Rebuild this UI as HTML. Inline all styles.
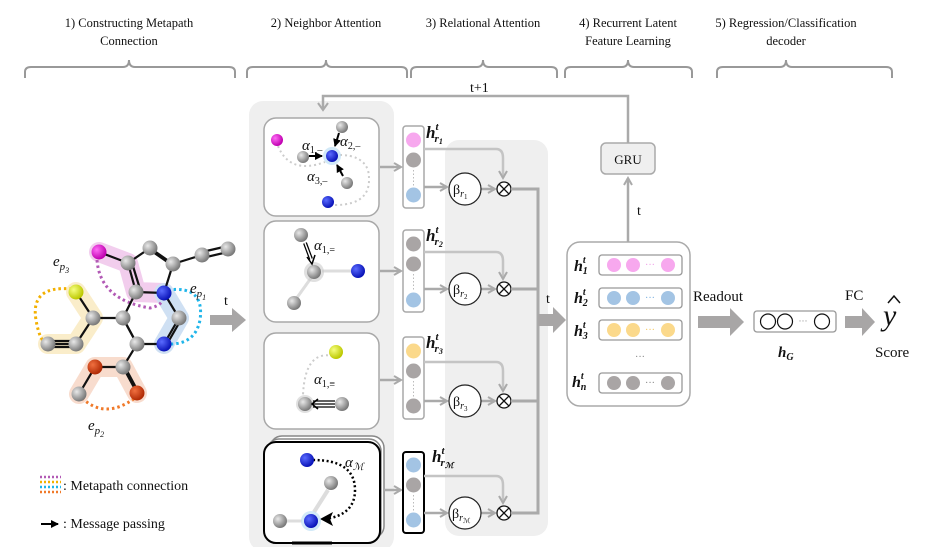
<!DOCTYPE html>
<html><head><meta charset="utf-8"><style>
html,body{margin:0;padding:0;background:#fff;width:938px;height:547px;overflow:hidden}
svg{display:block}
text{font-family:"Liberation Serif",serif;fill:#111}
.h{font-weight:bold;font-style:italic}
</style></head><body>
<svg width="938" height="547" viewBox="0 0 938 547" xmlns="http://www.w3.org/2000/svg">
<defs>
<radialGradient id="gg" cx="35%" cy="35%" r="65%"><stop offset="0" stop-color="#e8e8e8"/><stop offset="1" stop-color="#7a7a7a"/></radialGradient>
<radialGradient id="gb" cx="35%" cy="35%" r="65%"><stop offset="0" stop-color="#5a6bff"/><stop offset="1" stop-color="#0a14b8"/></radialGradient>
<radialGradient id="gm" cx="35%" cy="35%" r="65%"><stop offset="0" stop-color="#ff6cf5"/><stop offset="1" stop-color="#c000b0"/></radialGradient>
<radialGradient id="gy" cx="35%" cy="35%" r="65%"><stop offset="0" stop-color="#f6ff80"/><stop offset="1" stop-color="#bcc800"/></radialGradient>
<radialGradient id="gr" cx="35%" cy="35%" r="65%"><stop offset="0" stop-color="#f07040"/><stop offset="1" stop-color="#b02a05"/></radialGradient>
<marker id="ag" markerWidth="10" markerHeight="10" refX="8" refY="5" orient="auto" markerUnits="userSpaceOnUse"><path d="M1,1 L8,5 L1,9" fill="none" stroke="#aaa" stroke-width="2"/></marker>
<marker id="ab" markerWidth="8" markerHeight="8" refX="7" refY="4" orient="auto" markerUnits="userSpaceOnUse"><path d="M0,0 L8,4 L0,8 z" fill="#000"/></marker>
</defs>

<!-- headers -->
<g font-size="12.5" text-anchor="middle">
<text x="129" y="27">1) Constructing Metapath</text><text x="129" y="45">Connection</text>
<text x="326" y="27">2) Neighbor Attention</text>
<text x="483" y="27">3) Relational Attention</text>
<text x="628" y="27">4) Recurrent Latent</text><text x="628" y="45">Feature Learning</text>
<text x="786" y="27">5) Regression/Classification</text><text x="786" y="45">decoder</text>
</g>
<g fill="none" stroke="#999" stroke-width="2">
<path d="M25,78 V72 Q25,67 31,67 H123 Q129,67 129,60 Q129,67 135,67 H229 Q235,67 235,72 V78"/>
<path d="M247,78 V72 Q247,67 253,67 H320 Q326,67 326,60 Q326,67 332,67 H401 Q407,67 407,72 V78"/>
<path d="M411,78 V72 Q411,67 417,67 H477 Q483,67 483,60 Q483,67 489,67 H551 Q557,67 557,72 V78"/>
<path d="M565,78 V72 Q565,67 571,67 H622 Q628,67 628,60 Q628,67 634,67 H686 Q692,67 692,72 V78"/>
<path d="M717,78 V72 Q717,67 723,67 H780 Q786,67 786,60 Q786,67 792,67 H886 Q892,67 892,72 V78"/>
</g>

<!-- molecule halos -->
<g stroke-linecap="round" stroke-linejoin="round" fill="none" opacity="0.55">
<path d="M99,252 L128,263 L136,292 L164,293" stroke="#e8a6e0" stroke-width="20"/>
<path d="M164,293 L179,318 L164,344" stroke="#a9c8ea" stroke-width="20"/>
<path d="M76,292 L93,318 L76,344 L48,344" stroke="#f7e0a0" stroke-width="20"/>
<path d="M79,394 L95,367 L123,367 L137,393" stroke="#f3c0a6" stroke-width="20"/>
</g>
<!-- dotted metapaths -->
<g fill="none" stroke-width="3" stroke-dasharray="2.5 3">
<path d="M97,260 Q100,300 150,308 Q165,305 164,293" stroke="#b25ab5"/>
<path d="M168,290 Q205,285 200,320 Q195,345 168,344" stroke="#1fb5ea"/>
<path d="M72,289 Q30,285 36,320 Q40,343 48,344" stroke="#f3b000"/>
<path d="M82,398 Q105,420 135,398" stroke="#f07a2a"/>
</g>
<!-- bonds -->
<g stroke="#111" stroke-width="2.2" fill="none">
<path d="M99,252 L128,263 L150,248 M128,263 L136,292 L164,293 L173,264 M173,264 L202,255 M136,292 L123,318 L137,344 L164,344 M164,293 L179,318 L164,344 M123,318 L93,318 L76,292 M93,318 L76,344 L48,344 M137,344 L123,367 L95,367 L79,394 M123,367 L137,393"/>
<path d="M153,252 L176,268 M132,263 L140,289 M125,322 L139,348 M182,318 L167,344 M126,369 L140,395"/>
<path d="M150,248 L173,264 M202,252 L228,246 M202,258 L228,252 M78,341 L50,341 M78,347 L50,347"/>
</g>
<!-- atoms -->
<g>
<circle cx="150" cy="248" r="7.5" fill="url(#gg)"/><circle cx="128" cy="263" r="7.5" fill="url(#gg)"/>
<circle cx="173" cy="264" r="7.5" fill="url(#gg)"/><circle cx="202" cy="255" r="7.5" fill="url(#gg)"/>
<circle cx="228" cy="249" r="7.5" fill="url(#gg)"/><circle cx="136" cy="292" r="7.5" fill="url(#gg)"/>
<circle cx="179" cy="318" r="7.5" fill="url(#gg)"/><circle cx="137" cy="344" r="7.5" fill="url(#gg)"/>
<circle cx="123" cy="318" r="7.5" fill="url(#gg)"/><circle cx="93" cy="318" r="7.5" fill="url(#gg)"/>
<circle cx="76" cy="344" r="7.5" fill="url(#gg)"/><circle cx="48" cy="344" r="7.5" fill="url(#gg)"/>
<circle cx="123" cy="367" r="7.5" fill="url(#gg)"/><circle cx="79" cy="394" r="7.5" fill="url(#gg)"/>
<circle cx="99" cy="252" r="7.5" fill="url(#gm)"/><circle cx="164" cy="293" r="7.5" fill="url(#gb)"/>
<circle cx="164" cy="344" r="7.5" fill="url(#gb)"/><circle cx="76" cy="292" r="7.5" fill="url(#gy)"/>
<circle cx="95" cy="367" r="7.5" fill="url(#gr)"/><circle cx="137" cy="393" r="7.5" fill="url(#gr)"/>
</g>
<g font-size="15" font-style="italic">
<text x="53" y="266">e<tspan font-size="11" dy="4">p</tspan><tspan font-size="8" dy="3">3</tspan></text>
<text x="190" y="293">e<tspan font-size="11" dy="4">p</tspan><tspan font-size="8" dy="3">1</tspan></text>
<text x="88" y="430">e<tspan font-size="11" dy="4">p</tspan><tspan font-size="8" dy="3">2</tspan></text>
</g>
<!-- big arrow t -->
<path d="M210,315 H232 V308 L246,320 L232,332 V325 H210 Z" fill="#a8a6a6"/>
<text x="224" y="305" font-size="14">t</text>
<!-- legend -->
<g stroke-width="2.5" stroke-dasharray="2 2">
<line x1="40" y1="477" x2="61" y2="477" stroke="#b25ab5"/><line x1="40" y1="482" x2="61" y2="482" stroke="#f3b000"/>
<line x1="40" y1="487" x2="61" y2="487" stroke="#1fb5ea"/><line x1="40" y1="492" x2="61" y2="492" stroke="#f07a2a"/>
</g>
<text x="63" y="490" font-size="14">: Metapath connection</text>
<line x1="41" y1="524" x2="58" y2="524" stroke="#000" stroke-width="2" marker-end="url(#ab)"/>
<text x="63" y="528" font-size="14">: Message passing</text>

<!-- neighbor attention bg -->
<rect x="249" y="101" width="145" height="450" rx="14" fill="#efefef"/>
<!-- relational bg -->
<rect x="445" y="140" width="103" height="396" rx="14" fill="#efefef"/>

<!-- cards -->
<g fill="#fff" stroke="#a8a8a8" stroke-width="1.5">
<rect x="264" y="118" width="115" height="98" rx="12"/>
<rect x="264" y="221" width="115" height="101" rx="12"/>
<rect x="264" y="333" width="115" height="96" rx="12"/>
<rect x="270" y="436" width="114" height="102" rx="12" stroke="#888"/>
<rect x="267" y="439" width="114" height="102" rx="12" stroke="#888"/>
</g>
<rect x="264" y="442" width="116" height="101" rx="12" fill="#fff" stroke="#000" stroke-width="2"/>
<line x1="292" y1="543" x2="332" y2="543" stroke="#000" stroke-width="3"/>
<!-- card1 -->
<g fill="none" stroke="#ccc" stroke-width="2" stroke-dasharray="2 3">
<path d="M278,146 Q290,175 325,162"/><path d="M335,205 Q375,205 368,170 Q362,155 340,155"/>
<path d="M333,356 Q305,350 303,395"/>
</g>
<circle cx="332" cy="156" r="9" fill="#bfe0f5" opacity="0.7"/>
<circle cx="277" cy="140" r="6" fill="url(#gm)"/><circle cx="303" cy="157" r="6" fill="url(#gg)"/>
<circle cx="332" cy="156" r="6" fill="url(#gb)"/><circle cx="342" cy="127" r="6" fill="url(#gg)"/>
<circle cx="347" cy="183" r="6" fill="url(#gg)"/><circle cx="328" cy="202" r="6" fill="url(#gb)"/>
<g stroke="#000" stroke-width="2"><line x1="309" y1="156" x2="322" y2="156" marker-end="url(#ab)"/>
<line x1="339" y1="133" x2="335" y2="146" marker-end="url(#ab)"/><line x1="343" y1="176" x2="337" y2="165" marker-end="url(#ab)"/></g>
<g font-size="15" font-style="italic"><text x="302" y="150">α<tspan font-size="10" dy="3" font-style="normal">1,–</tspan></text>
<text x="340" y="146">α<tspan font-size="10" dy="3" font-style="normal">2,–</tspan></text>
<text x="307" y="181">α<tspan font-size="10" dy="3" font-style="normal">3,–</tspan></text></g>
<!-- card2 -->
<line x1="352" y1="271" x2="322" y2="271" stroke="#ddd" stroke-width="3"/><line x1="296" y1="299" x2="311" y2="278" stroke="#ddd" stroke-width="3"/>
<circle cx="314" cy="272" r="10" fill="#ccc" opacity="0.6"/>
<circle cx="301" cy="235" r="7" fill="url(#gg)"/><circle cx="314" cy="272" r="7" fill="url(#gg)"/>
<circle cx="358" cy="271" r="7" fill="url(#gb)"/><circle cx="294" cy="303" r="7" fill="url(#gg)"/>
<path d="M305,243 L311,259" stroke="#000" stroke-width="4"/><path d="M305,243 L311,259" stroke="#fff" stroke-width="1.5"/>
<path d="M307,257 L312,264 L315,255" fill="none" stroke="#000" stroke-width="1.5"/>
<text x="314" y="250" font-size="15" font-style="italic">α<tspan font-size="10" dy="3" font-style="normal">1,=</tspan></text>
<!-- card3 -->
<circle cx="336" cy="352" r="7" fill="url(#gy)"/><circle cx="305" cy="404" r="9" fill="#ccc" opacity="0.6"/>
<circle cx="305" cy="404" r="7" fill="url(#gg)"/><circle cx="342" cy="404" r="7" fill="url(#gg)"/>
<g stroke="#000" stroke-width="1.3"><line x1="313" y1="401" x2="335" y2="401"/><line x1="313" y1="404" x2="335" y2="404"/><line x1="313" y1="407" x2="335" y2="407"/></g>
<path d="M318,399 L312,404 L318,409" fill="none" stroke="#000" stroke-width="1.5"/>
<text x="314" y="384" font-size="15" font-style="italic">α<tspan font-size="10" dy="3" font-style="normal">1,≡</tspan></text>
<!-- card4 -->
<path d="M313,460 Q355,460 355,490 Q355,515 325,519" fill="none" stroke="#000" stroke-width="2.5" stroke-dasharray="2 2.5"/>
<path d="M320,519 L333,512 L330,519 L333,526 Z" fill="#000"/>
<line x1="328" y1="490" x2="314" y2="512" stroke="#ddd" stroke-width="4"/><line x1="287" y1="521" x2="302" y2="521" stroke="#ddd" stroke-width="3"/>
<circle cx="311" cy="521" r="10" fill="#bfe0f5" opacity="0.7"/>
<circle cx="307" cy="460" r="7" fill="url(#gb)"/><circle cx="331" cy="483" r="7" fill="url(#gg)"/>
<circle cx="311" cy="521" r="7" fill="url(#gb)"/><circle cx="280" cy="521" r="7" fill="url(#gg)"/>
<text x="345" y="467" font-size="15" font-style="italic">α<tspan font-size="10" dy="3">ℳ</tspan></text>

<!-- card -> vector arrows -->
<g stroke="#aaa" stroke-width="2.5" fill="none" marker-end="url(#ag)">
<line x1="380" y1="167" x2="401" y2="167"/><line x1="380" y1="271" x2="401" y2="271"/>
<line x1="380" y1="380" x2="401" y2="380"/><line x1="384" y1="490" x2="401" y2="490"/>
</g>
<!-- vectors -->
<g fill="#fff" stroke="#a8a8a8" stroke-width="1.5">
<rect x="403" y="126" width="21" height="82" rx="3"/><rect x="403" y="230" width="21" height="82" rx="3"/>
<rect x="403" y="337" width="21" height="82" rx="3"/>
</g>
<rect x="403" y="452" width="21" height="81" rx="3" fill="#fff" stroke="#000" stroke-width="2"/>
<g>
<circle cx="413.5" cy="140" r="7.5" fill="#f7a8ee"/><circle cx="413.5" cy="160" r="7.5" fill="#a9a5a5"/><circle cx="413.5" cy="195" r="7.5" fill="#a3c4e4"/>
<circle cx="413.5" cy="244" r="7.5" fill="#a9a5a5"/><circle cx="413.5" cy="264" r="7.5" fill="#a9a5a5"/><circle cx="413.5" cy="300" r="7.5" fill="#a3c4e4"/>
<circle cx="413.5" cy="351" r="7.5" fill="#fbd98b"/><circle cx="413.5" cy="371" r="7.5" fill="#a9a5a5"/><circle cx="413.5" cy="406" r="7.5" fill="#a9a5a5"/>
<circle cx="413.5" cy="465" r="7.5" fill="#a3c4e4"/><circle cx="413.5" cy="485" r="7.5" fill="#a9a5a5"/><circle cx="413.5" cy="520" r="7.5" fill="#a3c4e4"/>
</g>
<g stroke="#bbb" stroke-dasharray="1.5 2"><line x1="413.5" y1="170" x2="413.5" y2="186"/><line x1="413.5" y1="274" x2="413.5" y2="291"/><line x1="413.5" y1="381" x2="413.5" y2="397"/><line x1="413.5" y1="495" x2="413.5" y2="511"/></g>
<g font-size="17" class="h">
<text x="426" y="138" class="h">h<tspan font-size="11" dy="-8">t</tspan><tspan font-size="11" dy="12" dx="-4">r</tspan><tspan font-size="8" dy="2">1</tspan></text>
<text x="426" y="241" class="h">h<tspan font-size="11" dy="-8">t</tspan><tspan font-size="11" dy="12" dx="-4">r</tspan><tspan font-size="8" dy="2">2</tspan></text>
<text x="426" y="348" class="h">h<tspan font-size="11" dy="-8">t</tspan><tspan font-size="11" dy="12" dx="-4">r</tspan><tspan font-size="8" dy="2">3</tspan></text>
<text x="432" y="462" class="h">h<tspan font-size="11" dy="-8">t</tspan><tspan font-size="11" dy="12" dx="-4">r</tspan><tspan font-size="8" dy="2">ℳ</tspan></text>
</g>
<!-- relational flows -->
<g stroke="#c4c4c4" stroke-width="2.5" fill="none" marker-end="url(#ag)">
<path d="M424,149 H496 Q503,149 503,158 V178"/><path d="M424,252 H496 Q503,252 503,261 V279"/>
<path d="M424,362 H496 Q503,362 503,371 V391"/><path d="M424,476 H496 Q503,476 503,485 V503"/>
</g>
<g stroke="#aaa" stroke-width="2.5" fill="none" marker-end="url(#ag)">
<line x1="424" y1="187" x2="447" y2="187"/><line x1="424" y1="289" x2="447" y2="289"/>
<line x1="424" y1="401" x2="447" y2="401"/><line x1="424" y1="513" x2="447" y2="513"/>
<line x1="481" y1="189" x2="495" y2="189"/><line x1="481" y1="289" x2="495" y2="289"/>
<line x1="481" y1="401" x2="495" y2="401"/><line x1="481" y1="513" x2="495" y2="513"/>
</g>
<g fill="#fff" stroke="#222" stroke-width="1.2">
<circle cx="465" cy="189" r="16"/><circle cx="465" cy="289" r="16"/><circle cx="465" cy="401" r="16"/><circle cx="465" cy="513" r="16"/>
</g>
<g font-size="14"><text x="453" y="194">β<tspan font-size="10" font-style="italic" dy="3">r</tspan><tspan font-size="7" dy="2">1</tspan></text>
<text x="453" y="294">β<tspan font-size="10" font-style="italic" dy="3">r</tspan><tspan font-size="7" dy="2">2</tspan></text>
<text x="453" y="406">β<tspan font-size="10" font-style="italic" dy="3">r</tspan><tspan font-size="7" dy="2">3</tspan></text>
<text x="452" y="518">β<tspan font-size="10" font-style="italic" dy="3">r</tspan><tspan font-size="7" dy="2">ℳ</tspan></text></g>
<g fill="#fff" stroke="#111" stroke-width="1.3">
<g><circle cx="504" cy="189" r="7"/><path d="M499,184 L509,194 M509,184 L499,194"/></g>
<g><circle cx="504" cy="289" r="7"/><path d="M499,284 L509,294 M509,284 L499,294"/></g>
<g><circle cx="504" cy="401" r="7"/><path d="M499,396 L509,406 M509,396 L499,406"/></g>
<g><circle cx="504" cy="513" r="7"/><path d="M499,508 L509,518 M509,508 L499,518"/></g>
</g>
<g stroke="#aaa" stroke-width="3" fill="none">
<path d="M511,189 H538 V513 H511"/><line x1="511" y1="289" x2="538" y2="289"/><line x1="511" y1="401" x2="538" y2="401"/>
</g>
<path d="M538,314 H553 V307 L566,320 L553,333 V326 H538 Z" fill="#a8a6a6"/>
<text x="546" y="303" font-size="14">t</text>

<!-- feedback loop -->
<path d="M628,143 V96 H323 V108" fill="none" stroke="#aaa" stroke-width="2.5"/>
<path d="M318,103 L323,110 L328,103" fill="none" stroke="#aaa" stroke-width="2"/>
<text x="470" y="92" font-size="14">t+1</text>
<rect x="601" y="143" width="54" height="31" rx="5" fill="#efefef" stroke="#aaa" stroke-width="1.5"/>
<text x="628" y="164" font-size="13" text-anchor="middle">GRU</text>
<line x1="628" y1="242" x2="628" y2="178" stroke="#aaa" stroke-width="2.5" marker-end="url(#ag)"/>
<text x="637" y="215" font-size="14">t</text>

<!-- node box -->
<rect x="567" y="242" width="123" height="164" rx="13" fill="#fff" stroke="#aaa" stroke-width="1.5"/>
<g fill="#fff" stroke="#999" stroke-width="1.3">
<rect x="599" y="255" width="83" height="20" rx="3"/><rect x="599" y="288" width="83" height="20" rx="3"/>
<rect x="599" y="320" width="83" height="20" rx="3"/><rect x="599" y="373" width="83" height="20" rx="3"/>
</g>
<g>
<circle cx="614" cy="265" r="7" fill="#f7a8ee"/><circle cx="633" cy="265" r="7" fill="#f7a8ee"/><circle cx="668" cy="265" r="7" fill="#f7a8ee"/>
<circle cx="614" cy="298" r="7" fill="#a3c4e4"/><circle cx="633" cy="298" r="7" fill="#a3c4e4"/><circle cx="668" cy="298" r="7" fill="#a3c4e4"/>
<circle cx="614" cy="330" r="7" fill="#fbd98b"/><circle cx="633" cy="330" r="7" fill="#fbd98b"/><circle cx="668" cy="330" r="7" fill="#fbd98b"/>
<circle cx="614" cy="383" r="7" fill="#a9a5a5"/><circle cx="633" cy="383" r="7" fill="#a9a5a5"/><circle cx="668" cy="383" r="7" fill="#a9a5a5"/>
</g>
<g font-size="10" text-anchor="middle"><text x="650" y="268" style="fill:#f0a0e8">···</text><text x="650" y="301" style="fill:#7ab0e0">···</text><text x="650" y="333" style="fill:#f5c860">···</text><text x="650" y="386" style="fill:#888">···</text><text x="640" y="360" style="fill:#888">···</text></g>
<g font-size="16">
<text x="574" y="271" class="h">h<tspan font-size="10" dy="-8">t</tspan><tspan font-size="10" dy="11" dx="-3">1</tspan></text>
<text x="574" y="303" class="h">h<tspan font-size="10" dy="-8">t</tspan><tspan font-size="10" dy="11" dx="-3">2</tspan></text>
<text x="574" y="336" class="h">h<tspan font-size="10" dy="-8">t</tspan><tspan font-size="10" dy="11" dx="-3">3</tspan></text>
<text x="572" y="387" class="h">h<tspan font-size="10" dy="-8">t</tspan><tspan font-size="10" dy="11" dx="-3">n</tspan></text>
</g>
<text x="693" y="301" font-size="15">Readout</text>
<path d="M698,316 H730 V308 L744,322 L730,336 V328 H698 Z" fill="#a8a6a6"/>
<rect x="754" y="311" width="82" height="21" rx="3" fill="#fff" stroke="#999" stroke-width="1.3"/>
<g fill="#fff" stroke="#111" stroke-width="1.2"><circle cx="768" cy="321.5" r="7.5"/><circle cx="785" cy="321.5" r="7.5"/><circle cx="822" cy="321.5" r="7.5"/></g>
<text x="803" y="324" font-size="9" text-anchor="middle" style="fill:#888">···</text>
<text x="778" y="357" font-size="15" class="h">h<tspan font-size="10" dy="3">G</tspan></text>
<text x="845" y="300" font-size="15">FC</text>
<path d="M845,316 H862 V308 L875,322 L862,336 V328 H845 Z" fill="#a8a6a6"/>
<text x="883" y="325" font-size="30" font-style="italic">y</text>
<path d="M888,303 L894,296 L900,303" fill="none" stroke="#111" stroke-width="1.5"/>
<text x="875" y="357" font-size="15">Score</text>
</svg>
</body></html>
